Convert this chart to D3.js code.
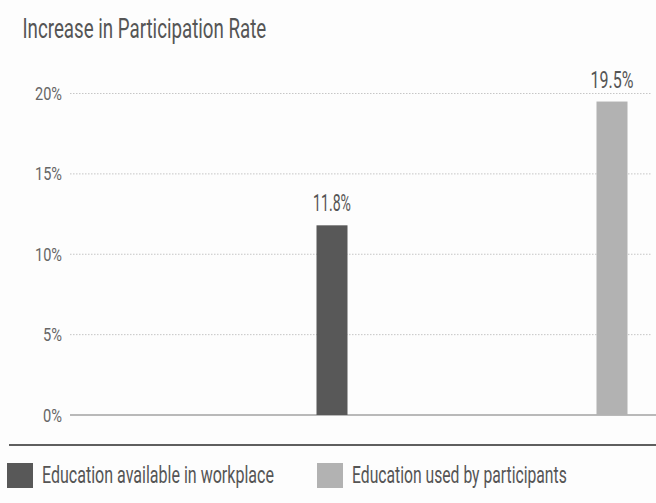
<!DOCTYPE html>
<html><head><meta charset="utf-8">
<script src="https://cdn.jsdelivr.net/npm/d3@7"></script>
<style>
body{margin:0;background:#fff;}
text{font-family:"Roboto","DejaVu Sans Condensed",sans-serif;}
</style></head>
<body><svg id="c" width="656" height="503"></svg>
<script>
const categories = ["Education available in workplace","Education used by participants"];
const values = [11.8, 19.5];
const valueLabels = ["11.8%","19.5%"];
const yTicks = [0,5,10,15,20];
const colors = ["#585858","#b2b2b2"];
const title = "Increase in Participation Rate";

// condense a text horizontally to a target width, anchored at (ax, ay)
function condense(node, w, ax, ay, anchor){
  const n = node.getComputedTextLength();
  const k = w / n;
  d3.select(node).attr("x",0).attr("y",0).attr("text-anchor",anchor||"start")
    .attr("transform",`translate(${ax},${ay}) scale(${k},1)`);
}

const svg = d3.select("#c");
svg.append("rect").attr("width",656).attr("height",503).attr("fill","#fdfdfd");
const y = d3.scaleLinear().domain([0,20]).range([415,93.5]);
const x = d3.scaleBand().domain(categories).range([70,630]);

const t = svg.append("text").attr("fill","#555").style("font-size","27px").text(title);
condense(t.node(), 244, 22.5, 38);

// gridlines
svg.append("g").selectAll("line").data(yTicks.filter(d=>d>0)).join("line")
  .attr("x1",70).attr("x2",652).attr("y1",d=>y(d)).attr("y2",d=>y(d))
  .attr("stroke","#b8b8b8").attr("stroke-width",0.8).attr("stroke-dasharray","1.5,1.5");
// axis labels
const ax = svg.append("g").attr("transform","translate(62,0)")
  .call(d3.axisLeft(y).tickValues(yTicks).tickFormat(d=>d+"%").tickSize(0).tickPadding(0));
ax.select(".domain").remove();
ax.selectAll(".tick").attr("transform",null);
ax.selectAll("text").attr("fill","#666").attr("dy",null).style("font-size","18px").style("font-family",null)
  .each(function(d){ condense(this, d>=10?27:19, 0, y(d)+6.5, "end"); });
// baseline
svg.append("line").attr("x1",70).attr("x2",656).attr("y1",y(0)).attr("y2",y(0)).attr("stroke","#777").attr("stroke-width",1.2);

const bw = 31;
const off = 246.5;
svg.append("g").selectAll("rect").data(values).join("rect")
  .attr("x",(d,i)=>x(categories[i])+off).attr("width",bw)
  .attr("y",d=>y(d)).attr("height",d=>y(0)-y(d)).attr("fill",(d,i)=>colors[i]);
svg.append("g").selectAll("text").data(values).join("text")
  .attr("fill","#555").style("font-size","23px")
  .text((d,i)=>valueLabels[i])
  .each(function(d,i){ condense(this, i===0?38:43, x(categories[i])+off+bw/2, y(d)-14, "middle"); });

// separator
svg.append("line").attr("x1",9).attr("x2",656).attr("y1",445).attr("y2",445).attr("stroke","#2a2a2a").attr("stroke-width",1.5);

// legend
const legX = [7,317];
const legW = [232,215];
const lg = svg.append("g").selectAll("g").data(categories).join("g")
  .attr("transform",(d,i)=>`translate(${legX[i]},463)`);
lg.append("rect").attr("width",26).attr("height",25).attr("fill",(d,i)=>colors[i]);
lg.append("text").attr("fill","#555").style("font-size","24px").text(d=>d)
  .each(function(d,i){ condense(this, legW[i], 35, 20); });
</script></body></html>
